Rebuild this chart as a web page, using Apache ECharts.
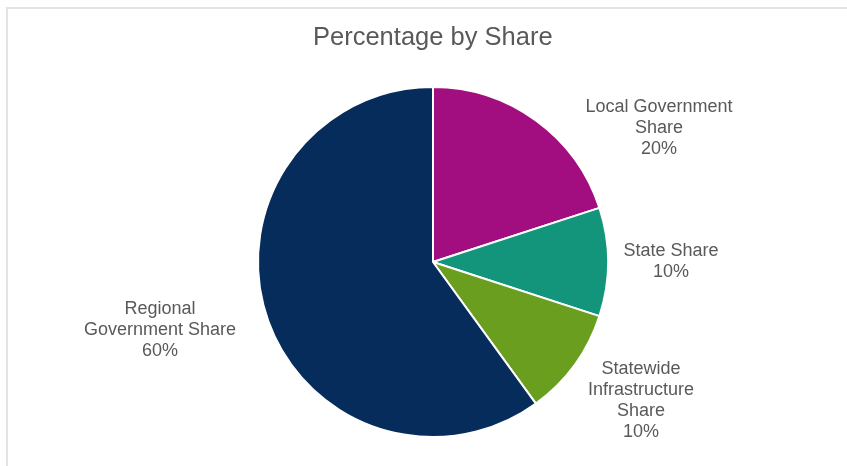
<!DOCTYPE html>
<html><head><meta charset="utf-8">
<script src="https://cdn.jsdelivr.net/npm/echarts@6/dist/echarts.min.js"></script>
<style>
html,body{margin:0;padding:0;background:#fff;}
#frame{position:absolute;left:6px;top:7px;width:841px;height:459px;border-left:2px solid #e3e3e3;border-top:2px solid #e3e3e3;box-sizing:border-box;}
#chart{position:absolute;left:0;top:0;width:847px;height:466px;}
</style></head>
<body>
<div id="frame"></div>
<div id="chart"></div>
<script>
const categories = ['Local Government\nShare', 'State Share', 'Statewide\nInfrastructure\nShare', 'Regional\nGovernment Share'];
const shares = [20, 10, 10, 60];
const colors = ['#A20E7F', '#13957B', '#6A9E1F', '#052C5B'];
// label anchor positions (layout only)
const labelPos = [[659, 128], [671, 262], [641, 401], [160, 330]];

const chart = echarts.init(document.getElementById('chart'));
chart.setOption({
  animation: false,
  title: {
    text: 'Percentage by Share',
    left: 308,
    top: 20,
    textStyle: {color: '#595959', fontSize: 25.5, fontWeight: 'normal', fontFamily: 'Liberation Sans, Arial, sans-serif'}
  },
  series: [{
    type: 'pie',
    center: [433, 262],
    radius: 175,
    startAngle: 90,
    clockwise: true,
    data: categories.map((c, i) => ({name: c, value: shares[i], itemStyle: {color: colors[i]}})),
    itemStyle: {borderColor: '#fff', borderWidth: 2},
    label: {
      show: true,
      position: 'outside',
      formatter: p => p.name + '\n' + p.value + '%',
      color: '#595959',
      fontSize: 18,
      lineHeight: 21,
      align: 'center',
      fontFamily: 'Liberation Sans, Arial, sans-serif'
    },
    labelLine: {show: false},
    labelLayout: p => ({x: labelPos[p.dataIndex][0], y: labelPos[p.dataIndex][1], align: 'center', verticalAlign: 'middle'})
  }]
});
</script>
</body></html>
